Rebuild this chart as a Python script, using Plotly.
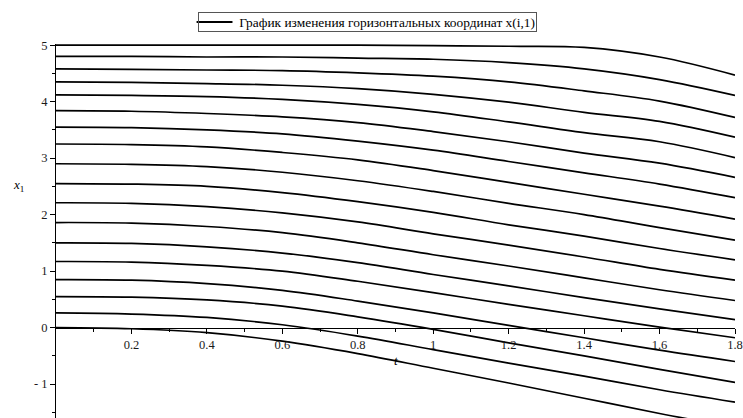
import plotly.graph_objects as go

# time grid
t_vals = [0.0, 0.2, 0.4, 0.6, 0.8, 1.0, 1.2, 1.4, 1.6, 1.8]

# horizontal coordinates x(i,1) for each particle
x00 = [0.00, -0.02, -0.09, -0.24, -0.46, -0.72, -0.98, -1.25, -1.52, -1.77]
x01 = [0.26, 0.24, 0.18, 0.05, -0.15, -0.39, -0.63, -0.86, -1.10, -1.32]
x02 = [0.55, 0.54, 0.49, 0.38, 0.19, -0.03, -0.27, -0.50, -0.74, -0.97]
x03 = [0.85, 0.84, 0.78, 0.66, 0.47, 0.26, 0.04, -0.18, -0.40, -0.60]
x04 = [1.17, 1.16, 1.10, 1.00, 0.82, 0.62, 0.41, 0.21, 0.01, -0.18]
x05 = [1.50, 1.49, 1.43, 1.32, 1.15, 0.94, 0.74, 0.53, 0.33, 0.14]
x06 = [1.86, 1.85, 1.79, 1.68, 1.50, 1.29, 1.09, 0.88, 0.67, 0.48]
x07 = [2.21, 2.20, 2.14, 2.03, 1.87, 1.66, 1.46, 1.25, 1.03, 0.84]
x08 = [2.55, 2.54, 2.50, 2.39, 2.23, 2.04, 1.82, 1.62, 1.40, 1.20]
x09 = [2.90, 2.89, 2.85, 2.75, 2.60, 2.41, 2.20, 2.00, 1.77, 1.55]
x10 = [3.25, 3.24, 3.20, 3.10, 2.97, 2.78, 2.57, 2.36, 2.15, 1.92]
x11 = [3.55, 3.54, 3.50, 3.43, 3.30, 3.14, 2.94, 2.74, 2.54, 2.30]
x12 = [3.84, 3.83, 3.79, 3.73, 3.63, 3.47, 3.29, 3.09, 2.91, 2.66]
x13 = [4.12, 4.11, 4.09, 4.04, 3.95, 3.82, 3.64, 3.45, 3.29, 3.01]
x14 = [4.35, 4.34, 4.32, 4.29, 4.23, 4.13, 3.99, 3.81, 3.65, 3.37]
x15 = [4.58, 4.57, 4.56, 4.55, 4.51, 4.45, 4.35, 4.19, 4.01, 3.72]
x16 = [4.80, 4.80, 4.79, 4.79, 4.77, 4.75, 4.69, 4.58, 4.39, 4.11]
x17 = [5.00, 5.00, 5.00, 5.00, 5.00, 4.99, 4.98, 4.96, 4.79, 4.47]

series = [x00, x01, x02, x03, x04, x05, x06, x07, x08, x09,
          x10, x11, x12, x13, x14, x15, x16, x17]

x_ticks = [0.2, 0.4, 0.6, 0.8, 1.0, 1.2, 1.4, 1.6, 1.8]
x_tick_text = ["0.2", "0.4", "0.6", "0.8", "1", "1.2", "1.4", "1.6", "1.8"]
y_ticks = [-1, 0, 1, 2, 3, 4, 5]
y_tick_text = ["- 1", "0", "1", "2", "3", "4", "5"]

legend_name = "График изменения горизонтальных координат x(i,1)"

Y_MIN, Y_MAX = -1.60, 5.02
SERIF = "Liberation Serif, Times New Roman, serif"

fig = go.Figure()
for k, ys in enumerate(series):
    fig.add_trace(go.Scatter(
        x=t_vals, y=ys, mode="lines",
        line=dict(color="black", width=1.7, shape="spline", smoothing=1.0),
        name=legend_name, showlegend=False,
    ))

# legend box drawn as a framed text with a line sample
LEG_Y = 1 + (44 - 22) / 374
legend_box = dict(
    x=(368 - 56) / 681, y=LEG_Y, xref="paper", yref="paper",
    xanchor="center", yanchor="middle",
    text=legend_name, showarrow=False, align="right",
    width=335, height=16, borderpad=1,
    bordercolor="#555555", borderwidth=1, bgcolor="rgba(0,0,0,0)",
    font=dict(family=SERIF, size=13.4, color="black"),
)
fig.add_shape(
    type="line", xref="paper", yref="paper", layer="above",
    x0=(197 - 56) / 681, x1=(233 - 56) / 681, y0=LEG_Y, y1=LEG_Y,
    line=dict(color="black", width=2),
)

fig.update_layout(
    width=743, height=418,
    margin=dict(l=56, r=6, t=44, b=0),
    paper_bgcolor="white", plot_bgcolor="white",
    font=dict(family=SERIF, size=13, color="black"),
    showlegend=False,
    xaxis=dict(
        range=[0, 1.8], showgrid=False, zeroline=False,
        showline=True, linecolor="black", linewidth=1,
        anchor="free", position=(0 - Y_MIN) / (Y_MAX - Y_MIN),
        tickmode="array", tickvals=x_ticks, ticktext=x_tick_text,
        ticks="outside", ticklen=5, tickcolor="black",
        ticklabeloverflow="allow",
        minor=dict(tickvals=[0.1, 0.3, 0.5, 0.7, 0.9, 1.1, 1.3, 1.5, 1.7],
                   ticks="outside", ticklen=3, tickcolor="black"),
        tickfont=dict(family=SERIF, size=12.5, color="#1a1a1a"),
    ),
    yaxis=dict(
        range=[Y_MIN, Y_MAX], showgrid=False, zeroline=False,
        showline=True, linecolor="black", linewidth=1,
        tickmode="array", tickvals=y_ticks, ticktext=y_tick_text,
        ticks="outside", ticklen=5, tickcolor="black",
        minor=dict(tickvals=[-1.5, -0.5, 0.5, 1.5, 2.5, 3.5, 4.5],
                   ticks="outside", ticklen=3, tickcolor="black"),
        tickfont=dict(family=SERIF, size=12.5, color="#1a1a1a"),
    ),
    annotations=[
        legend_box,
        dict(x=0.9, y=-0.58, xref="x", yref="y", text="<i>t</i>",
             showarrow=False, font=dict(family=SERIF, size=13, color="black")),
        dict(x=-0.066, y=2.52, xref="paper", yref="y",
             text="<i>x</i><sub>1</sub>", showarrow=False,
             font=dict(family=SERIF, size=13, color="black")),
    ],
)

fig.write_html("out.html")
